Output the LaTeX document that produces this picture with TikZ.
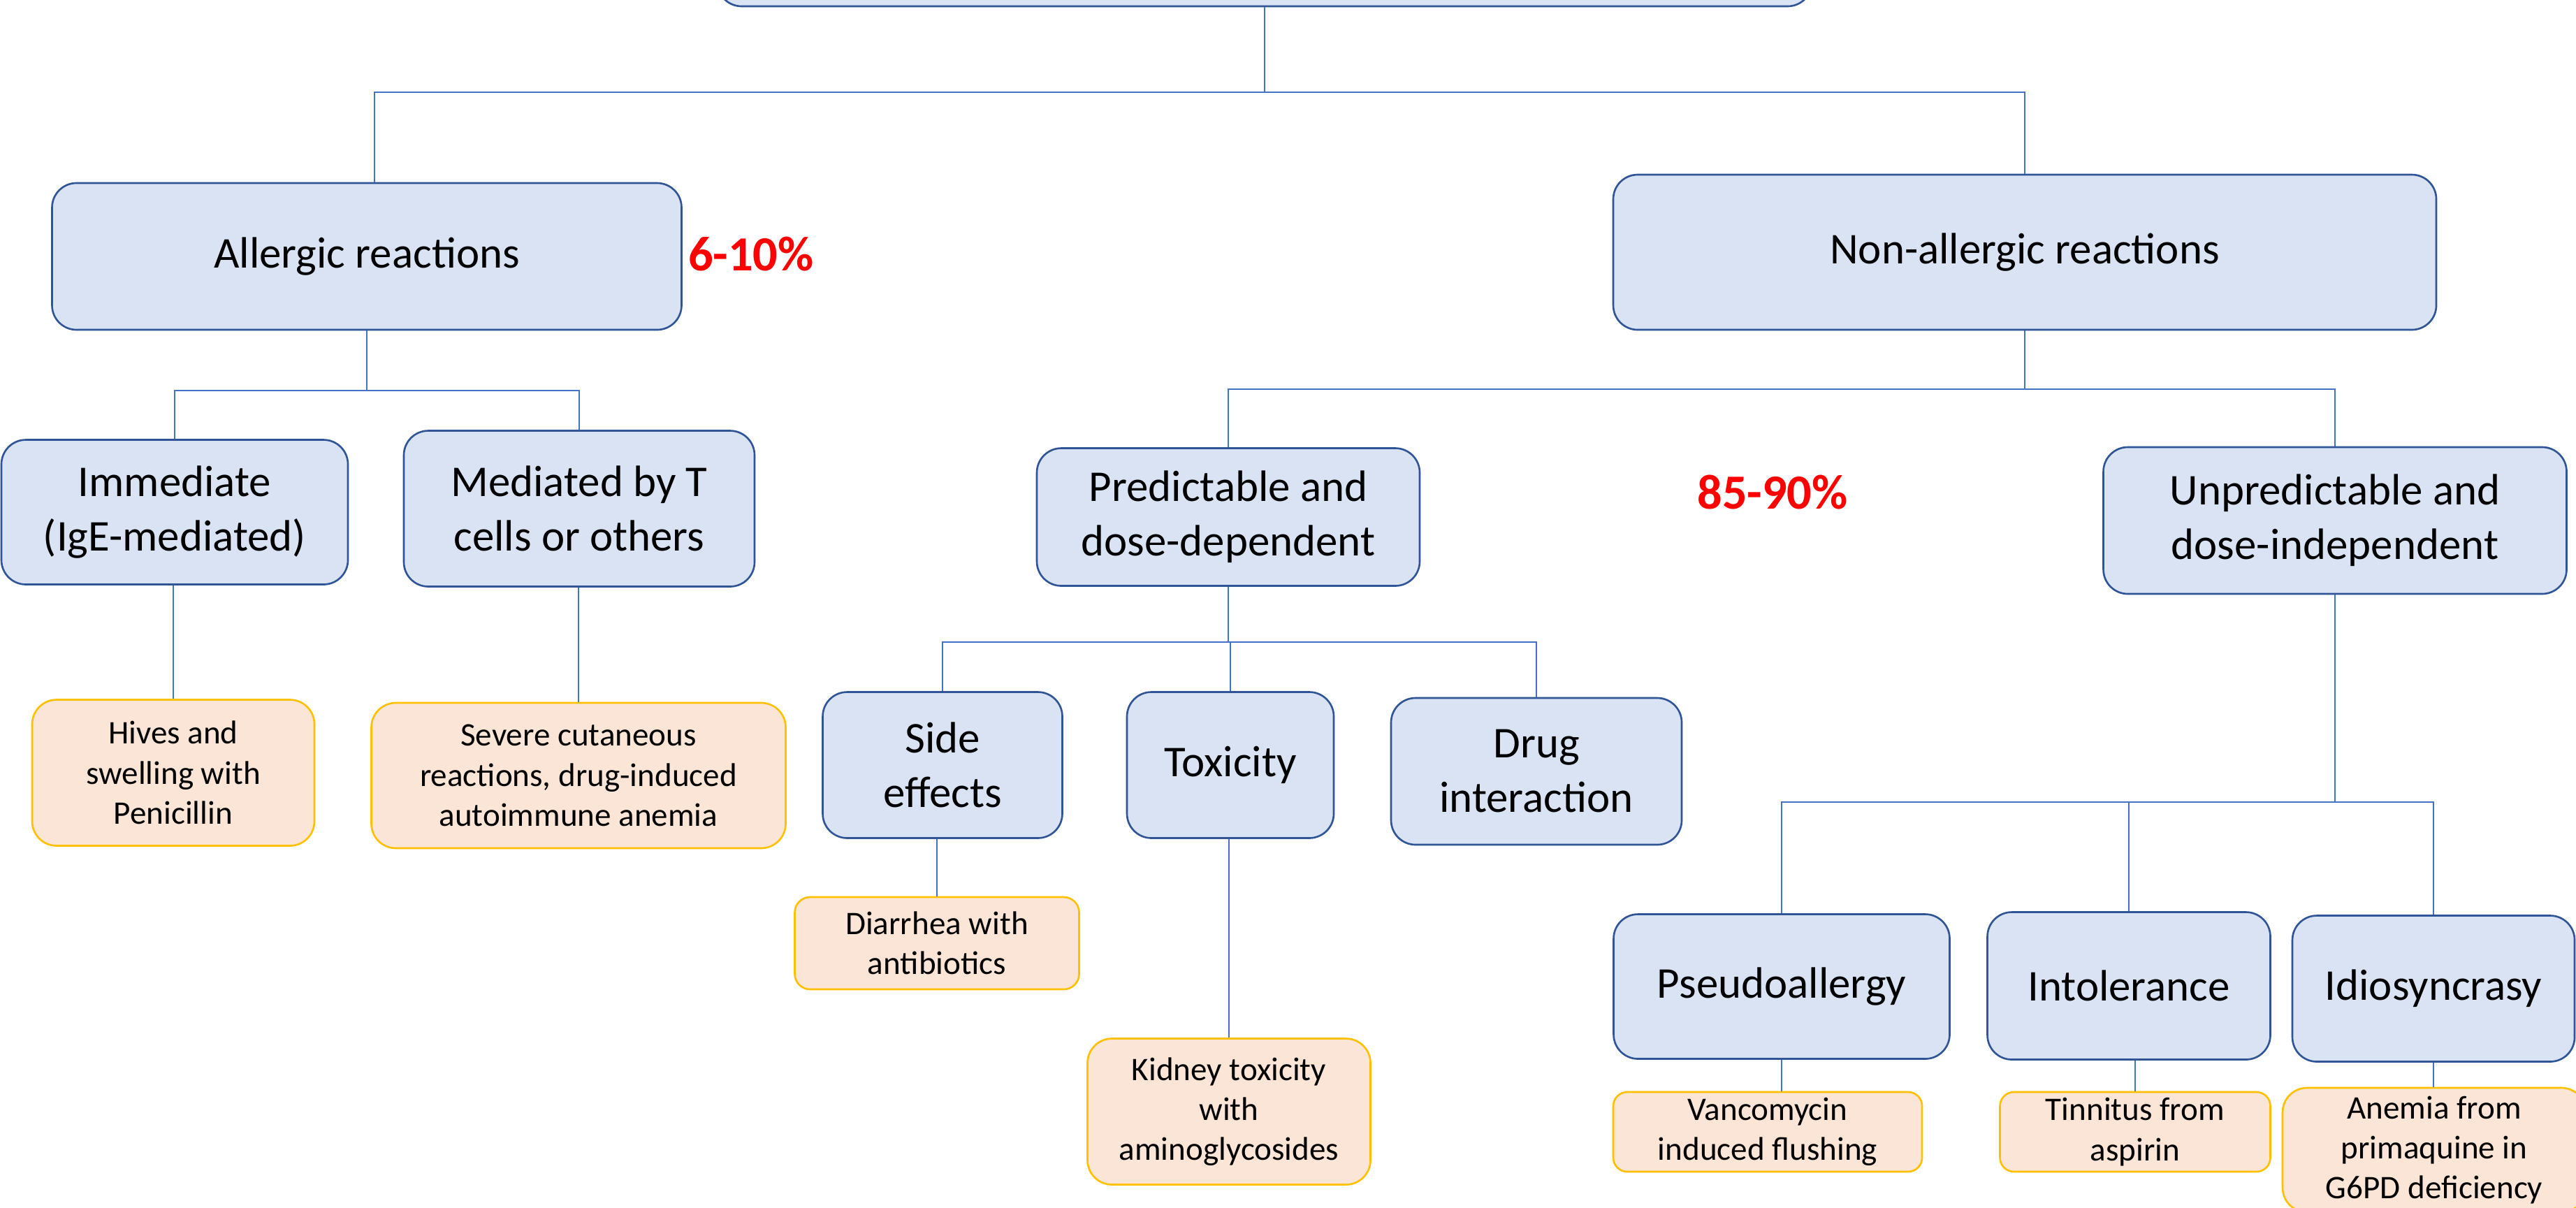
\documentclass[tikz,border=0pt]{standalone}
\usepackage{fontspec}
\setmainfont{Carlito}
\usepackage{xcolor}
\usetikzlibrary{positioning,calc}

\definecolor{fillblue}{HTML}{DAE3F3}
\definecolor{edgeblue}{HTML}{2F5597}
\definecolor{fillorange}{HTML}{FBE5D6}
\definecolor{edgegold}{HTML}{FFC000}
\definecolor{lineblue}{HTML}{4472C4}

\begin{document}
\begin{tikzpicture}[
    % Stil für die blauen Kategorie-Boxen
    mainbox/.style={
      rectangle,
      rounded corners=0.35cm,
      draw=edgeblue,
      line width=0.75pt,
      fill=fillblue,
      inner sep=0pt,
      align=center,
      font=\fontsize{17.9}{22.2}\selectfont
    },
    % Stil für die orangen Beispiel-Boxen
    examplebox/.style={
      rectangle,
      rounded corners=0.35cm,
      draw=edgegold,
      line width=0.75pt,
      fill=fillorange,
      inner sep=0pt,
      align=center,
      font=\fontsize{13.4}{16.3}\selectfont
    },
    % Stil für die roten Prozentangaben
    pctlabel/.style={
      text=red,
      font=\bfseries\fontsize{20}{24}\selectfont
    },
    % Stil für die Verbindungslinien
    connline/.style={
      draw=lineblue,
      line width=0.4pt
    }
  ]

  % --- RAHMEN ---
  \useasboundingbox (0,0) rectangle (36.87,-17.28);
  \clip (0,0) rectangle (36.87,-17.28);

  % --- DEFINITION DER KNOTEN (BOXEN) ---

  % Ebene 0: Wurzel (oben abgeschnitten)
  \node[mainbox, minimum width=15.67cm, minimum height=2.18cm] (root) at (18.10,1.00) {};

  % Ebene 1: allergisch / nicht allergisch
  \node[mainbox, minimum width=9.01cm, minimum height=2.10cm] (allergic) at (5.25,-3.67) {Allergic reactions};
  \node[pctlabel] (pctallergic) at (10.75,-3.64) {6-10\%};
  \node[mainbox, minimum width=11.78cm, minimum height=2.22cm] (nonallergic) at (28.98,-3.61) {Non-allergic reactions};

  % Ebene 2
  \node[mainbox, minimum width=4.96cm, minimum height=2.07cm] (immediate) at (2.50,-7.33) {Immediate\\(IgE-mediated)};
  \node[mainbox, minimum width=5.02cm, minimum height=2.23cm] (mediated) at (8.29,-7.28) {Mediated by T\\cells or others};
  \node[mainbox, minimum width=5.48cm, minimum height=1.97cm] (predictable) at (17.58,-7.40) {Predictable and\\dose-dependent};
  \node[pctlabel] (pctnonallergic) at (25.37,-7.05) {85-90\%};
  \node[mainbox, minimum width=6.63cm, minimum height=2.10cm] (unpredictable) at (33.42,-7.45) {Unpredictable and\\dose-independent};

  % Ebene 3
  \node[mainbox, minimum width=3.43cm, minimum height=2.09cm] (sidefx) at (13.49,-10.95) {Side\\effects};
  \node[mainbox, minimum width=2.96cm, minimum height=2.09cm] (toxicity) at (17.61,-10.95) {Toxicity};
  \node[mainbox, minimum width=4.16cm, minimum height=2.10cm] (druginter) at (21.99,-11.04) {Drug\\interaction};
  \node[mainbox, minimum width=4.81cm, minimum height=2.07cm] (pseudo) at (25.50,-14.12) {Pseudoallergy};
  \node[mainbox, minimum width=4.05cm, minimum height=2.11cm] (intol) at (30.47,-14.11) {Intolerance};
  \node[mainbox, minimum width=4.04cm, minimum height=2.09cm] (idio) at (34.83,-14.15) {Idiosyncrasy};

  % Beispiele
  \node[examplebox, minimum width=4.04cm, minimum height=2.09cm] (hives) at (2.48,-11.06) {Hives and\\swelling with\\Penicillin};
  \node[examplebox, minimum width=5.93cm, minimum height=2.08cm] (severe) at (8.28,-11.10) {Severe cutaneous\\reactions, drug-induced\\autoimmune anemia};
  \node[examplebox, rounded corners=0.22cm, minimum width=4.07cm, minimum height=1.32cm] (diarrhea) at (13.41,-13.50) {Diarrhea with\\antibiotics};
  \node[examplebox, minimum width=4.05cm, minimum height=2.09cm] (kidney) at (17.59,-15.91) {Kidney toxicity\\with\\aminoglycosides};
  \node[examplebox, rounded corners=0.2cm, minimum width=4.42cm, minimum height=1.14cm] (vanco) at (25.30,-16.20) {Vancomycin\\induced flushing};
  \node[examplebox, rounded corners=0.2cm, minimum width=3.87cm, minimum height=1.14cm] (tinnitus) at (30.56,-16.20) {Tinnitus from\\aspirin};
  \node[examplebox, minimum width=4.34cm, minimum height=1.78cm] (anemia) at (34.84,-16.46) {Anemia from\\primaquine in\\G6PD deficiency};

  % Verzweigungspunkte
  \coordinate (bustop) at (18.10,-1.32);
  \coordinate (busallergic) at (5.25,-5.59);
  \coordinate (busnonall) at (28.98,-5.57);
  \coordinate (buspred) at (17.61,-9.19);
  \coordinate (busunpred) at (33.42,-11.48);

  % --- ZEICHNEN DER LINIEN ---
  \draw[connline] (root.south) -- (bustop);
  \draw[connline] ([xshift=0.11cm]allergic.north) |- (bustop) -| (nonallergic.north);

  \draw[connline] (allergic.south) -- (busallergic);
  \draw[connline] (immediate.north) |- (busallergic) -| (mediated.north);

  \draw[connline] (nonallergic.south) -- (busnonall);
  \draw[connline] (predictable.north) |- (busnonall) -| (unpredictable.north);

  \draw[connline] (predictable.south) -- (predictable.south |- buspred);
  \draw[connline] (sidefx.north) |- (buspred) -| (druginter.north);
  \draw[connline] (toxicity.north) -- (buspred);

  \draw[connline] (unpredictable.south) -- (busunpred);
  \draw[connline] (pseudo.north) |- (busunpred) -| (idio.north);
  \draw[connline] (intol.north) -- (intol.north |- busunpred);

  % Linien zu den Beispielen
  \draw[connline] (hives.north) -- (hives.north |- immediate.south);
  \draw[connline] (severe.north) -- (severe.north |- mediated.south);
  \draw[connline] (diarrhea.north) -- (diarrhea.north |- sidefx.south);
  \draw[connline] (kidney.north) -- (kidney.north |- toxicity.south);
  \draw[connline] (vanco.north -| pseudo.south) -- (pseudo.south);
  \draw[connline] (tinnitus.north) -- (tinnitus.north |- intol.south);
  \draw[connline] (anemia.north -| idio.south) -- (idio.south);

\end{tikzpicture}
\end{document}
